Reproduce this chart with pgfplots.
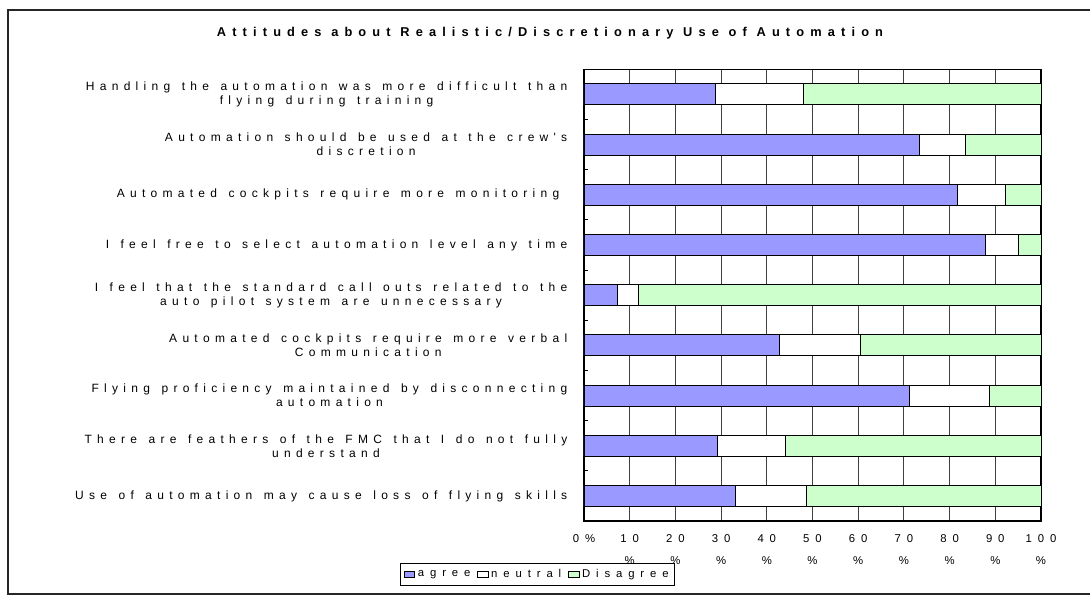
\documentclass[border=0pt]{standalone}
\usepackage{fontspec}
\usepackage{pgfplots}
\usepackage{pgfplotstable}
\pgfplotsset{compat=1.18}
\newfontfamily\spaced[LetterSpace=52]{Liberation Sans}
\newfontfamily\spacedlabel[LetterSpace=44,WordSpace=1.34]{Liberation Sans}
\newfontfamily\spacedtitle[LetterSpace=48]{Liberation Sans}

\definecolor{agreeC}{HTML}{9999FF}
\definecolor{disC}{HTML}{CCFFCC}

% survey shares in percent, one row per statement (top to bottom)
\pgfplotstableread{
idx agree neutral disagree
0 28.7 19.3 52.0
1 73.5 10.0 16.5
2 81.6 10.6  7.8
3 87.8  7.2  5.0
4  7.3  4.7 88.0
5 42.8 17.7 39.5
6 71.3 17.5 11.2
7 29.1 15.0 55.9
8 33.1 15.6 51.3
}\attitudes

\begin{document}
\begin{tikzpicture}
\begin{scope}[x=0.75pt,y=-0.75pt]
\useasboundingbox (0,0) rectangle (1090,595);
\draw[line width=1.1pt, black!85] (8,10) rectangle (1110,594);
\node[font=\spacedtitle\fontsize{9.6}{11}\selectfont\bfseries] at (550,33)
  {Attitudes about Realistic/Discretionary Use of Automation};
\end{scope}
\begin{axis}[
  at={(438pt,-390.75pt)}, anchor=south west,
  scale only axis, width=342.75pt, height=338.8pt,
  xbar stacked, bar width=15.75pt,
  xmin=0, xmax=100, ymin=-0.5, ymax=8.5, y dir=reverse,
  axis line style={black, line width=0.8pt},
  xtick={0,10,...,100},
  xticklabels={{0\%},{10\\\%},{20\\\%},{30\\\%},{40\\\%},{50\\\%},{60\\\%},{70\\\%},{80\\\%},{90\\\%},{100\\\%}},
  xtick style={draw=none},
  x tick label style={align=center, anchor=north, yshift=-7pt,
    font=\spaced\fontsize{8.5}{16.5}\selectfont},
  xmajorgrids, major grid style={black!75, line width=0.6pt},
  ytick pos=left,
  ytick={0,...,8},
  yticklabels={
    {Handling the automation was more difficult than\\flying during training},
    {Automation should be used at the crew's\\discretion},
    {Automated cockpits require more monitoring\hspace*{6pt}},
    {I feel free to select automation level any time},
    {I feel that the standard call outs related to the\\auto pilot system are unnecessary},
    {Automated cockpits require more verbal\\Communication},
    {Flying proficiency maintained by disconnecting\\automation},
    {There are feathers of the FMC that I do not fully\\understand},
    {Use of automation may cause loss of flying skills}},
  ytick style={draw=none},
  y tick label style={align=center, anchor=east, xshift=-9pt,
    font=\spacedlabel\fontsize{9}{10.5}\selectfont},
  extra y ticks={0.5,1.5,...,7.5},
  extra y tick labels={},
  extra y tick style={ytick style={draw=black, line width=0.6pt},
    major tick length=3pt, tick align=inside},
  every axis plot/.append style={draw=black, line width=0.6pt},
  legend columns=3,
  legend style={at={(-0.4026,-0.093)}, anchor=north west, draw=black,
    line width=0.6pt, inner sep=2.5pt,
    font=\spaced\fontsize{8.5}{10}\selectfont,
    /tikz/every even column/.append style={column sep=3pt}},
  legend image code/.code={\draw[#1] (0pt,-2.5pt) rectangle (8pt,2.5pt);},
]
\addplot[fill=agreeC] table[x=agree, y=idx] {\attitudes};
\addplot[fill=white] table[x=neutral, y=idx] {\attitudes};
\addplot[fill=disC] table[x=disagree, y=idx] {\attitudes};
\legend{agree, neutral, Disagree}
\end{axis}
\end{tikzpicture}
\end{document}
